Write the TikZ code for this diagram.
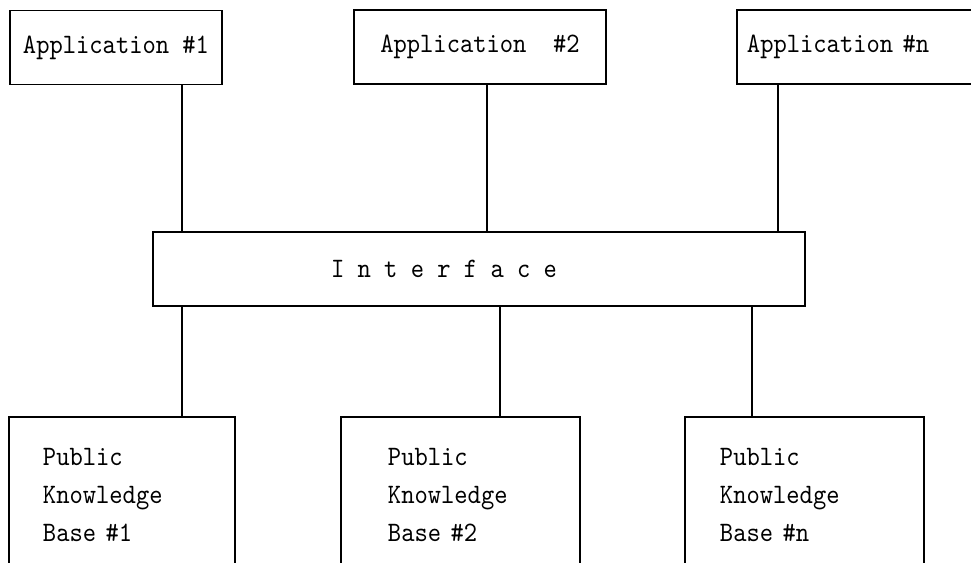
\documentclass[tikz,border=0pt]{standalone}
\usepackage{fontspec}
\setmonofont[FakeStretch=0.9]{lmmono10-regular.otf}

\begin{document}
\begin{tikzpicture}[
  x=0.025cm, y=-0.025cm,
  font=\ttfamily\fontsize{20}{26.7}\selectfont,
  appbox/.style={draw, line width=1.1pt, minimum height=1.86cm},
  kbbox/.style={draw, line width=1.1pt, minimum height=3.9cm, align=left,
    inner ysep=0pt},
  link/.style={line width=1pt}
]
\useasboundingbox (0,0) rectangle (971,563);
\clip (0,0) rectangle (971,563);

\node[appbox, minimum width=5.3cm] (app1) at (116,47.5) {Application \#1};
\node[appbox, minimum width=6.3cm] (app2) at (480,47) {Application\ \ \#2};
\node[appbox, text width=6.075cm, inner xsep=0.25cm, align=left] (appn) at (868.5,47) {Application \#n};

\node[appbox, minimum width=16.3cm, label={[xshift=-0.875cm]center:I n t e r f a c e}] (iface) at (479,269) {};

\node[kbbox, text width=3.95cm, inner xsep=0.85cm] (kb1) at (122,495) {Public\\Knowledge\\Base \#1};
\node[kbbox, text width=3.625cm, inner xsep=1.175cm] (kb2) at (460.5,495) {Public\\Knowledge\\Base \#2};
\node[kbbox, text width=4.225cm, inner xsep=0.875cm] (kbn) at (804.5,495) {Public\\Knowledge\\Base \#n};

\coordinate (col1) at (182,0);
\coordinate (col2) at (487,0);
\coordinate (col3) at (778,0);
\coordinate (col4) at (500,0);
\coordinate (col5) at (752,0);

\draw[link] (app1.south -| col1) -- (iface.north -| col1);
\draw[link] (app2.south -| col2) -- (iface.north -| col2);
\draw[link] (appn.south -| col3) -- (iface.north -| col3);
\draw[link] (iface.south -| col1) -- (kb1.north -| col1);
\draw[link] (iface.south -| col4) -- (kb2.north -| col4);
\draw[link] (iface.south -| col5) -- (kbn.north -| col5);

\end{tikzpicture}
\end{document}
